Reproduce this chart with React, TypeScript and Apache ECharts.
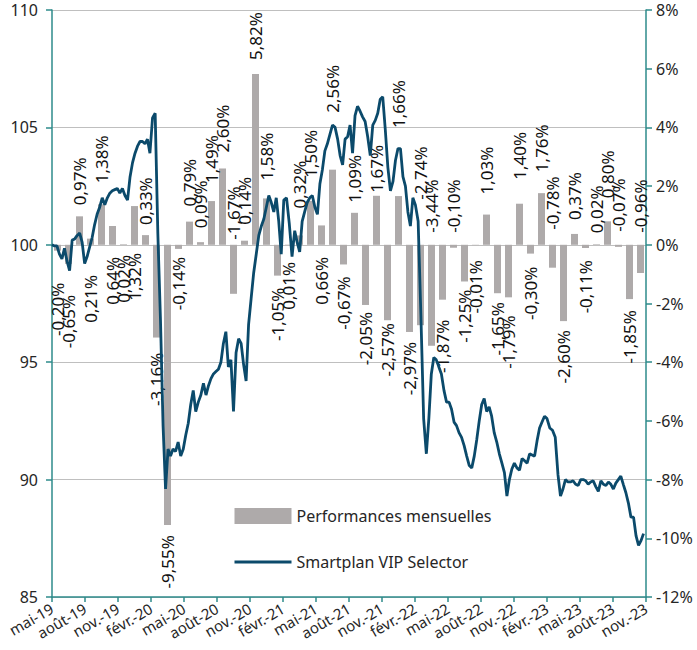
import React, { useEffect, useRef } from 'react';
import * as echarts from 'echarts';

// ---- DATA ----
const barMonths = [
  'mai-19','juin-19','juil.-19','août-19','sept.-19','oct.-19','nov.-19','déc.-19',
  'janv.-20','févr.-20','mars-20','avr.-20','mai-20','juin-20','juil.-20','août-20','sept.-20','oct.-20','nov.-20','déc.-20',
  'janv.-21','févr.-21','mars-21','avr.-21','mai-21','juin-21','juil.-21','août-21','sept.-21','oct.-21','nov.-21','déc.-21',
  'janv.-22','févr.-22','mars-22','avr.-22','mai-22','juin-22','juil.-22','août-22','sept.-22','oct.-22','nov.-22','déc.-22',
  'janv.-23','févr.-23','mars-23','avr.-23','mai-23','juin-23','juil.-23','août-23','sept.-23','oct.-23',
];

const monthlyPerf = [
  -0.20, -0.65, 0.97, 0.21, 1.38, 0.64, 0.02, 1.32, 0.33, -3.16, -9.55, -0.14, 0.79, 0.09,
  1.49, 2.60, -1.67, 0.14, 5.82, 1.58, -1.05, 0.01, 0.32, 1.50, 0.66, 2.56, -0.67, 1.09,
  -2.05, 1.67, -2.57, 1.66, -2.97, -2.74, -3.44, -1.87, -0.10, -1.25, -0.01, 1.03, -1.65,
  -1.79, 1.40, -0.30, 1.76, -0.78, -2.60, 0.37, -0.11, 0.02, 0.80, -0.07, -1.85, -0.96,
];

const tickLabels = [
  'mai-19','août-19','nov.-19','févr.-20','mai-20','août-20','nov.-20','févr.-21','mai-21',
  'août-21','nov.-21','févr.-22','mai-22','août-22','nov.-22','févr.-23','mai-23','août-23','nov.-23',
];

// weekly values of the fund, starting 2019-05-01
const weeklyValues = [
  100.0, 99.95, 99.95, 99.6, 99.4, 99.85, 99.3, 98.9, 100.2, 100.25,
  100.4, 100.5, 100.1, 99.2, 99.5, 99.9, 100.3, 100.85, 101.3, 101.6,
  102.0, 101.7, 102.0, 102.2, 102.3, 102.35, 102.4, 102.2, 102.4, 102.1,
  101.9, 102.9, 103.5, 103.9, 104.2, 104.4, 104.4, 104.3, 104.5, 103.9,
  105.4, 105.6, 100.5, 96.8, 92.3, 89.6, 91.3, 91.0, 91.3, 91.2,
  91.6, 91.0, 91.3, 91.9, 92.4, 93.2, 93.8, 92.9, 93.3, 93.6,
  94.1, 93.6, 94.0, 94.3, 94.5, 94.6, 94.7, 95.0, 95.8, 96.3,
  94.8, 95.1, 92.9, 95.4, 96.0, 95.8, 94.9, 94.2, 96.6, 97.7,
  98.8, 99.6, 100.4, 100.8, 101.1, 101.6, 102.1, 101.8, 101.4, 102.0,
  101.0, 99.6, 101.9, 102.0, 100.9, 99.5, 100.6, 100.1, 99.7, 101.0,
  101.4, 101.8, 102.0, 102.1, 101.6, 101.3, 102.6, 103.2, 104.0, 104.3,
  104.7, 105.1, 105.0, 104.5, 103.8, 103.4, 104.5, 104.6, 105.1, 103.9,
  105.5, 105.9, 105.7, 105.45, 105.25, 104.6, 103.8, 105.1, 105.3, 105.6,
  106.2, 106.3, 104.9, 103.3, 102.3, 102.7, 103.6, 104.1, 104.1, 102.9,
  102.5, 101.4, 100.8, 102.0, 101.7, 101.0, 97.0, 92.6, 91.1, 92.6,
  94.5, 95.2, 95.1, 94.8, 94.5, 93.8, 93.3, 93.3, 93.0, 92.45,
  92.3, 92.0, 91.8, 91.45, 91.0, 90.6, 90.5, 91.0, 91.7, 92.5,
  93.2, 93.45, 92.9, 93.1, 92.7, 92.0, 91.6, 91.1, 90.7, 90.3,
  89.3, 90.0, 90.45, 90.7, 90.5, 90.4, 90.9, 90.8, 90.7, 91.1,
  91.05, 91.0, 91.65, 92.2, 92.45, 92.7, 92.6, 92.2, 92.1, 91.8,
  90.2, 89.3, 89.6, 90.0, 89.9, 89.9, 89.95, 89.8, 89.75, 90.0,
  90.0, 89.95, 89.8, 89.9, 89.95, 89.7, 89.5, 89.95, 89.8, 89.75,
  89.9, 89.8, 89.6, 89.85, 90.0, 90.15, 89.8, 89.45, 89.0, 88.4,
  88.4, 87.6, 87.2, 87.4, 87.7,
];

// ---- LABEL LAYOUT (a = above, b = below), gap in px ----
const labelSide = [
  'b','b','a','b','a','b','b','b','a','b','b','b','a','a','a','a','a','a','a','a',
  'b','b','a','a','b','a','b','a','b','a','b','a','b','a','a','b','a','b','b','a',
  'b','b','a','b','a','a','b','a','b','a','a','a','b','a',
];
const labelGap = [
  32, 31, 11, 30, 21, 12, 10, 8, 10, 15, 10, 8, 15, 14, 18, 16, 5, 16, 14, 18,
  12, 17, 27, 23, 12, 57, 12, 10, 7, 3, 3, 68, 10, 45, 12, 20, 12, 8, 15, 20,
  9, 18, 24, 13, 21, 15, 9, 14, 12, 11, 23, 13, 11, 12,
];

const FONT = "'Noto Sans', sans-serif";
const TEAL = '#2E8B8B';
const GRAY = '#AEAAAA';
const NAVY = '#0B4A6B';
const TEXT = '#262626';

function monthIndexOfWeek(k: number): number {
  const d = new Date(Date.UTC(2019, 4, 1 + 7 * k));
  const y = d.getUTCFullYear();
  const m = d.getUTCMonth();
  const day = d.getUTCDate();
  const dim = new Date(Date.UTC(y, m + 1, 0)).getUTCDate();
  return (y - 2019) * 12 + (m - 4) + (day - 1) / dim;
}

function fmtPct(v: number): string {
  return v.toFixed(2).replace('.', ',') + '%';
}

export default function App() {
  const ref = useRef<HTMLDivElement>(null);

  useEffect(() => {
    if (!ref.current) return;
    const chart = echarts.init(ref.current, null, { renderer: 'svg' });

    const barData = monthlyPerf.map((v, i) => {
      const above = labelSide[i] === 'a';
      return {
        value: v,
        label: {
          position: above ? 'top' : 'bottom',
          align: above ? 'left' : 'right',
          distance: labelGap[i],
        },
      };
    });

    const lineData = weeklyValues.map((v, k) => [monthIndexOfWeek(k), v]);

    chart.setOption({
      animation: false,
      backgroundColor: '#ffffff',
      textStyle: { fontFamily: FONT },
      grid: { left: 52, right: 51, top: 10, bottom: 53, containLabel: false },
      legend: {
        orient: 'vertical',
        left: 228,
        top: 503,
        itemWidth: 57,
        itemHeight: 16,
        itemGap: 30,
        textStyle: { fontSize: 16, color: TEXT, fontFamily: FONT },
        data: [
          { name: 'Performances mensuelles', icon: 'rect' },
          {
            name: 'Smartplan VIP Selector',
            itemStyle: { opacity: 0, borderWidth: 0, color: 'rgba(0,0,0,0)' },
            lineStyle: { width: 3, color: NAVY },
          },
        ],
      },
      xAxis: [
        {
          type: 'value',
          min: 0,
          max: 54,
          interval: 3,
          position: 'bottom',
          axisLine: { show: true, onZero: false, lineStyle: { color: TEAL, width: 1.5 } },
          axisTick: { show: true, length: 5, lineStyle: { color: TEAL, width: 1.5 } },
          splitLine: { show: false },
          axisLabel: {
            rotate: 30,
            margin: 10,
            fontSize: 15,
            color: TEXT,
            fontFamily: FONT,
            showMinLabel: true,
            showMaxLabel: true,
            formatter: (v: number) => tickLabels[Math.round(v / 3)] ?? '',
          },
        },
        {
          type: 'category',
          data: barMonths,
          show: false,
          boundaryGap: true,
        },
      ],
      yAxis: [
        {
          type: 'value',
          min: 85,
          max: 110,
          interval: 5,
          position: 'left',
          axisLine: { show: true, onZero: false, lineStyle: { color: TEAL, width: 1.5 } },
          axisTick: { show: true, length: 6, lineStyle: { color: TEAL, width: 1.5 } },
          splitLine: { show: true, lineStyle: { color: '#BFBFBF', width: 1.2 } },
          axisLabel: { fontSize: 16, margin: 14, color: TEXT, fontFamily: FONT },
        },
        {
          type: 'value',
          min: -12,
          max: 8,
          interval: 2,
          position: 'right',
          axisLine: { show: true, onZero: false, lineStyle: { color: TEAL, width: 1.5 } },
          axisTick: { show: true, length: 6, lineStyle: { color: TEAL, width: 1.5 } },
          splitLine: { show: false },
          axisLabel: {
            fontSize: 16,
            margin: 10,
            color: TEXT,
            fontFamily: FONT,
            formatter: (v: number) => v + '%',
          },
        },
      ],
      series: [
        {
          type: 'bar',
          name: 'Performances mensuelles',
          xAxisIndex: 1,
          yAxisIndex: 1,
          barWidth: 7,
          itemStyle: { color: GRAY },
          label: {
            show: true,
            rotate: 90,
            verticalAlign: 'middle',
            fontSize: 17,
            fontFamily: FONT,
            color: '#111111',
            formatter: (p: any) => fmtPct(p.value),
          },
          data: barData,
        },
        {
          type: 'line',
          name: 'Smartplan VIP Selector',
          xAxisIndex: 0,
          yAxisIndex: 0,
          symbol: 'none',
          showSymbol: false,
          lineStyle: { color: NAVY, width: 2.8 },
          itemStyle: { color: NAVY },
          data: lineData,
        },
      ],
    });

    return () => chart.dispose();
  }, []);

  return (
    <div
      ref={ref}
      style={{ position: 'fixed', left: 0, top: 0, width: 697, height: 650 }}
    />
  );
}
